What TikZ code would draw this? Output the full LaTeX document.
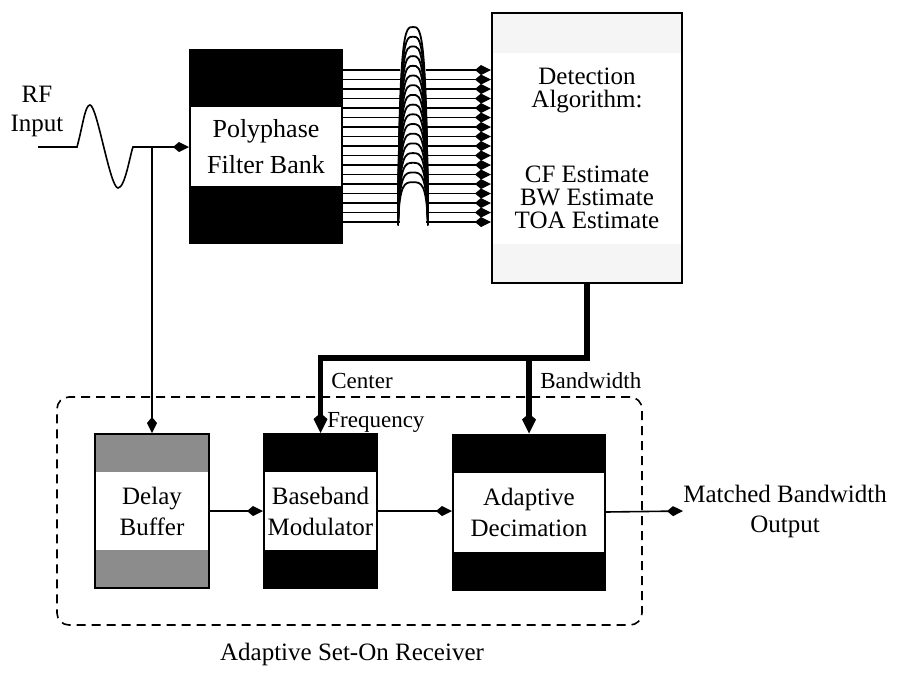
\documentclass[tikz,border=0pt]{standalone}
\usepackage{fontspec}
\setmainfont{Liberation Serif}
\usetikzlibrary{arrows.meta}

\begin{document}
\begin{tikzpicture}[x=0.5pt,y=-0.5pt,
    >={Kite[length=8pt,width=5pt,inset=3pt]},
    wire/.style={line width=0.8pt},
    bus/.style={line width=2.6pt,>={Kite[length=10pt,width=7pt,inset=3pt]}},
    blk/.style={draw,line width=1pt,inner sep=0pt,align=center,
      font=\fontsize{12.5}{15.5}\selectfont,
      path picture={\fill[white] ([yshift=#1]path picture bounding box.west)
        rectangle ([yshift=-#1]path picture bounding box.east);}},
    lbl/.style={inner sep=0pt,font=\fontsize{11.5}{13}\selectfont},
    txt/.style={inner sep=0pt,align=center,font=\fontsize{12.5}{15}\selectfont}]
    \useasboundingbox (0,0) rectangle (900,675);

    % blocks
    \node[blk=19.75pt,fill=black,minimum width=76pt,minimum height=96.5pt,
      font=\fontsize{13}{18}\selectfont] (poly) at (266,146.5) {Polyphase\\Filter Bank};
    \node[blk=47.75pt,fill=black!4,minimum width=95pt,minimum height=135pt,
      font=\fontsize{12.5}{11.5}\selectfont] (det) at (587,148)
      {Detection\\Algorithm:\\[26pt]CF Estimate\\BW Estimate\\TOA Estimate};
    \node[blk=19.5pt,fill=black!45,minimum width=57pt,minimum height=77pt] (delay) at (152,511) {Delay\\Buffer};
    \node[blk=19.5pt,fill=black,minimum width=56.5pt,minimum height=77pt] (base) at (320.5,511) {Baseband\\Modulator};
    \node[blk=19.75pt,fill=black,minimum width=76pt,minimum height=77.5pt] (adec) at (529,512) {Adaptive\\Decimation};
    \node[draw,line width=0.8pt,dash pattern=on 4.5pt off 3pt,rounded corners=6pt,
      minimum width=292.5pt,minimum height=114pt,inner sep=0pt] (recv) at (349.5,511) {};
    \node[txt] (recvname) at (352,654) {Adaptive Set-On Receiver};

    % input signal
    \node[txt,font=\fontsize{12.5}{14.5}\selectfont] (rfname) at (37,111) {RF\\Input};
    \coordinate (rf) at (38,147);
    \coordinate (tap) at (152,147);
    \draw[wire] (rf) -- (77,147) .. controls (83,125) and (85,105) .. (90,105)
      .. controls (97,105) and (110,188) .. (118,188)
      .. controls (125,188) and (130,155) .. (133,147) -- (tap);
    \draw[wire,->] (tap) -- (tap -| poly.west);
    \draw[wire,->] (tap) -- (delay.north);

    % filter bank outputs
    \foreach \k in {0,...,16}{
      \pgfmathsetmacro{\ly}{70+9.5*\k}
      \pgfmathsetmacro{\ap}{27+9.7*\k}
      \coordinate (ch) at (0,\ly);
      \draw[wire] (poly.east |- ch) -- (400,\ly);
      \draw[wire,->] (426,\ly) -- (det.west |- ch);
      \draw[line width=0.9pt] (398,225) .. controls (399.5,\ap) and (405,\ap) .. (413,\ap)
        .. controls (421,\ap) and (426.5,\ap) .. (428,225);
    }

    % estimates to receiver
    \coordinate (cfturn) at (320.5,358);
    \draw[bus,->] (det.south) |- (cfturn) -- (base.north);
    \draw[bus,->] (cfturn -| adec.north) -- (adec.north);
    \node[lbl,anchor=base west] (cflbl) at (331,388) {Center};
    \node[lbl,anchor=base west] (freqlbl) at (327,427) {Frequency};
    \node[lbl,anchor=base west] (bwlbl) at (540,388) {Bandwidth};

    \draw[wire,->] (delay.east) -- (base.west);
    \draw[wire,->] (base.east) -- (base.east -| adec.west);
    \node[txt,anchor=west] (out) at (683,511) {Matched Bandwidth\\Output};
    \draw[wire,->] (adec.east) -- (out.west);
\end{tikzpicture}
\end{document}
